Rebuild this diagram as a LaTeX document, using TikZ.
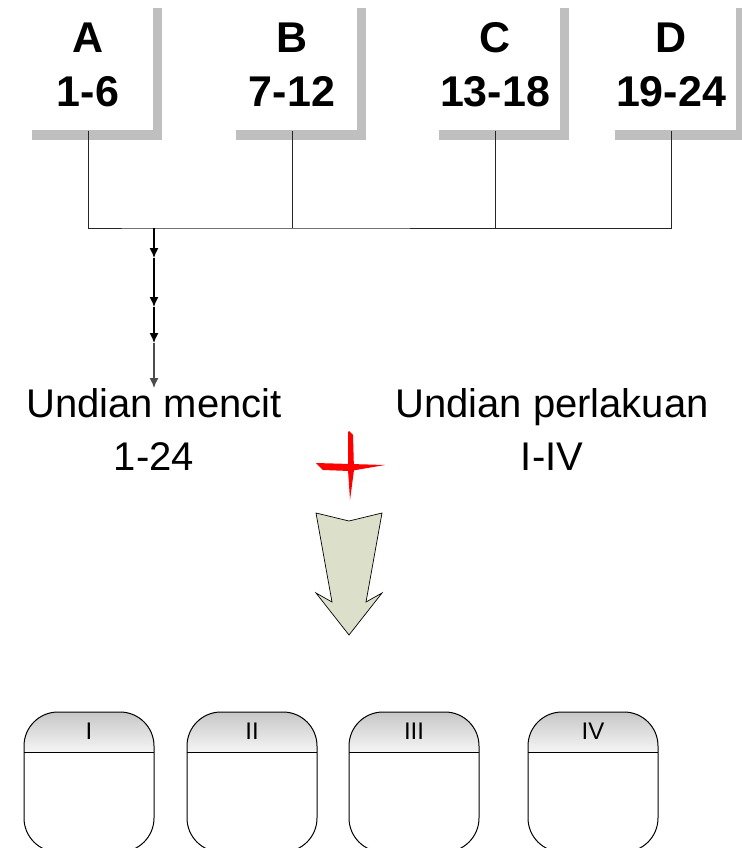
\documentclass[tikz,border=0pt]{standalone}
\usepackage{fontspec}
\setmainfont{Liberation Sans}
\usetikzlibrary{positioning, arrows.meta, shadows}
\definecolor{arrowfill}{RGB}{220,224,203}

\begin{document}
\begin{tikzpicture}[x=1pt, y=-1pt,
    litter/.style={fill=white, minimum width=130pt, minimum height=131pt, align=center,
      font=\fontsize{43}{54}\selectfont\bfseries,
      drop shadow={shadow xshift=9pt, shadow yshift=-9pt, fill=black!25, opacity=1}},
    lottery/.style={align=center, inner sep=0pt, anchor=north, font=\fontsize{40}{53}\selectfont},
    link/.style={draw=black!85, line width=1pt},
    trunk/.style={line width=1.3pt, -{Latex[length=10pt, width=9pt]}},
    grplabel/.style={font=\fontsize{24}{24}\selectfont, inner sep=0pt}]
    \useasboundingbox (0,0) rectangle (741,848);

    % Litters of mice
    \node[litter] (A) at (88,65) {A\\1-6};
    \node[litter] (B) at (292,65) {B\\7-12};
    \node[litter] (C) at (495,65) {C\\13-18};
    \node[litter] (D) at (671,65) {D\\19-24};

    % Lottery texts
    \node[lottery] (mencit) at (154,388) {Undian mencit\\1-24};
    \node[lottery] (perlakuan) at (552,388) {Undian perlakuan\\I-IV};

    % Collect litters and go down to the lottery
    \coordinate (bus) at (mencit.north |- 0,228);
    \coordinate (p1) at (mencit.north |- 0,258);
    \coordinate (p2) at (mencit.north |- 0,307);
    \coordinate (p3) at (mencit.north |- 0,343);
    \draw[link] (A.south) |- (bus) -| (D.south);
    \draw[link] (B.south) -- (B.south |- bus);
    \draw[link] (C.south) -- (C.south |- bus);
    \draw[trunk] (bus) -- (p1);
    \draw[trunk] (p1) -- (p2);
    \draw[trunk] (p2) -- (p3);
    \draw[trunk, draw=black!70] (p3) -- (mencit.north);

    % Red plus
    \fill[red] (348,432) -- (349,431) -- (353,435) -- (354,470) -- (350,500) -- (348,470) -- cycle;
    \fill[red] (316,463) -- (385,465) -- (350,471) -- (323,470) -- cycle;

    % Big arrow
    \filldraw[fill=arrowfill, draw=black, line width=0.7pt]
      (316,513) -- (349,521) -- (382,513) -- (366,602) -- (382,593)
      -- (349,635) -- (316,593) -- (332,602) -- cycle;

    % Treatment groups
    \foreach \gx/\gname/\glab in {24/gI/I, 187/gII/II, 349/gIII/III, 528/gIV/IV} {
      \shade[top color=black!22, bottom color=black!4] (\gx,752) -- (\gx,746)
        arc[start angle=180, end angle=270, radius=34] -- ++(62,0)
        arc[start angle=270, end angle=360, radius=34] -- (\gx+130,752) -- cycle;
      \draw[line width=1pt, rounded corners=34pt] (\gx,712) rectangle ++(130,140);
      \draw[line width=1pt] (\gx,752) -- ++(130,0);
      \node[grplabel] (\gname) at (\gx+65,731) {\glab};
    }
\end{tikzpicture}
\end{document}
